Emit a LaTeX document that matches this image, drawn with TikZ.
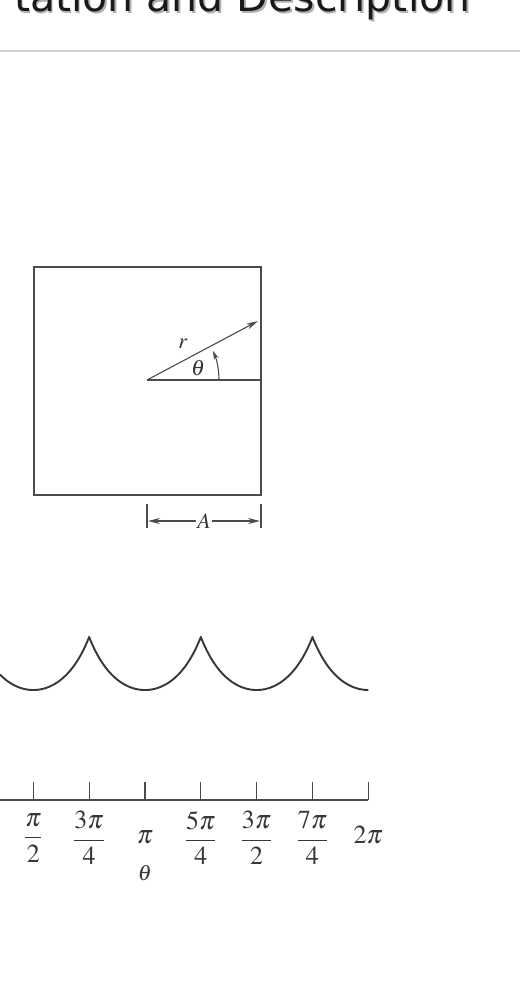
\documentclass[tikz,border=0pt]{standalone}
\usepackage{amsmath}
\usepackage{mathptmx}
\usepackage[no-math]{fontspec}
\newfontfamily\titlefont{DejaVu Sans}
\usetikzlibrary{arrows.meta}
\definecolor{ink}{HTML}{3A3633}
\definecolor{boxc}{HTML}{4F4A47}
\definecolor{rulec}{HTML}{D0D0D0}
\tikzset{
  thinline/.style={draw=boxc, line width=1.1pt},
  curveline/.style={draw=ink, line width=1.9pt, line join=round},
  tip/.style={-{Stealth[length=12pt,width=6pt]}},
  lbl/.style={text=ink, inner sep=0pt, font=\fontsize{22}{26}\selectfont},
  axlbl/.style={text=ink, inner sep=0pt, font=\fontsize{26}{30}\selectfont},
}
\begin{document}
\begin{tikzpicture}[x=1pt,y=-1pt]
\path[use as bounding box, fill=white] (0,0) rectangle (520,994);
% title (cut off at top) with shadow
\node[anchor=base east, text=black!30, font=\titlefont\fontsize{41}{41}\selectfont] (titleshadow) at (475.5,13.5) {tation and Description};
\node[anchor=base east, text=black!90, font=\titlefont\fontsize{41}{41}\selectfont] (title) at (474,11.5) {tation and Description};
\coordinate (ruleL) at (0,51);
\coordinate (ruleR) at (520,51);
\draw[rulec, line width=1.5pt] (ruleL) -- (ruleR);
% square
\coordinate (sqA) at (34,267);
\coordinate (sqB) at (261,495);
\draw[thinline] (sqA) rectangle (sqB);
\coordinate (O) at (147,380);
\coordinate (E) at (261,380);
\coordinate (R) at (258,321);
\draw[thinline] (O) -- (E);
\draw[thinline, tip] (O) -- (R);
\draw[thinline, -{Stealth[length=9pt,width=5pt]}] ([shift={(72,0)}]O) arc[start angle=0, end angle=-24, radius=72];
\node[lbl] (rlab) at (183,344) {$r$};
\node[lbl] (thlab) at (198,368.5) {$\theta$};
% dimension A
\coordinate (d1t) at (147,504);
\coordinate (d1b) at (147,528);
\coordinate (d2t) at (261,504);
\coordinate (d2b) at (261,528);
\draw[thinline] (d1t) -- (d1b);
\draw[thinline] (d2t) -- (d2b);
\node[lbl, fill=white, inner sep=1pt] (Alab) at (204,521) {$A$};
\draw[thinline, tip] (Alab.west) -- ([xshift=1pt]d1t |- Alab);
\draw[thinline, tip] (Alab.east) -- ([xshift=-1pt]d2t |- Alab);
% cusp curve r(theta)
\draw[curveline]
  plot[domain=-26.83:45, samples=50] ({33.3+\x/45*55.85},{690-128*(1/cos(\x)-1)})
  -- plot[domain=-45:45, samples=80] ({145.0+\x/45*55.85},{690-128*(1/cos(\x)-1)})
  -- plot[domain=-45:45, samples=80] ({256.65+\x/45*55.85},{690-128*(1/cos(\x)-1)})
  -- plot[domain=-45:0, samples=40] ({368.3+\x/45*55.85},{690-128*(1/cos(\x)-1)});
% axis
\coordinate (ax0) at (0,800);
\coordinate (ax1) at (368.3,800);
\draw[thinline] (ax0) -- (ax1);
\foreach \i in {0,...,6}{
  \coordinate (t\i) at ({33.3+\i*55.83},800);
  \draw[thinline] (t\i) -- ++(0,-18);
}
\node[axlbl] (l0) at ([shift={(0,38)}]t0) {$\dfrac{\pi}{2}$};
\node[axlbl] (l1) at ([shift={(0,38)}]t1) {$\dfrac{3\pi}{4}$};
\node[axlbl] (l2) at ([shift={(0,37)}]t2) {$\pi$};
\node[axlbl] (l3) at ([shift={(0,38)}]t3) {$\dfrac{5\pi}{4}$};
\node[axlbl] (l4) at ([shift={(0,38)}]t4) {$\dfrac{3\pi}{2}$};
\node[axlbl] (l5) at ([shift={(0,38)}]t5) {$\dfrac{7\pi}{4}$};
\node[axlbl] (l6) at ([shift={(0,35)}]t6) {$2\pi$};
\node[lbl] (thax) at ([shift={(0,73)}]t2) {$\theta$};
\end{tikzpicture}
\end{document}
